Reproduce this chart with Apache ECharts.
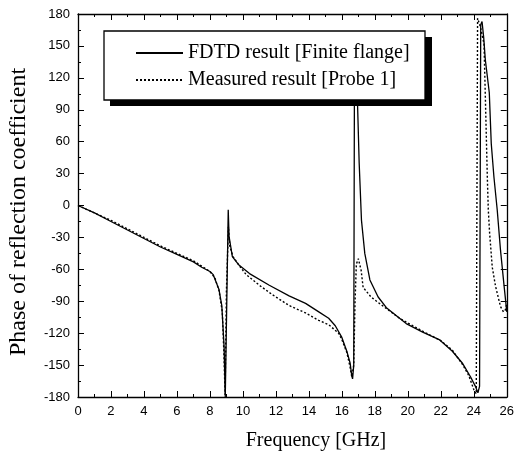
<!DOCTYPE html>
<html>
<head>
<meta charset="utf-8">
<script src="https://cdn.jsdelivr.net/npm/echarts@6/dist/echarts.min.js"></script>
<style>html,body{margin:0;padding:0;background:#fff}#c{width:517px;height:462px}</style>
</head>
<body>
<div id="c"></div>
<script>
var freqFDTD = [0,1,2,3,4,5,6,7,7.5,8,8.2,8.55,8.72,8.86,8.93,8.97,9.11,9.16,9.36,9.76,10.4,11.6,12.8,13.8,14.6,15.2,15.6,16.0,16.3,16.5,16.6,16.65,16.72,16.76,16.85,16.95,17.05,17.19,17.39,17.7,18.2,18.7,19.9,20.9,21.9,22.7,23.3,23.8,24.1,24.25,24.35,24.42,24.5,24.6,24.7,24.94,25.06,25.22,25.42,25.62,25.82,26];
var phaseFDTD = [0,-7,-15,-23,-31,-39,-46,-53,-58,-62,-65,-79,-94,-133,-180,-180,-4,-29,-48,-56,-64,-75,-85,-92,-100,-106,-113,-124,-137,-148,-160,-163,-150,100,140,96,40,-14,-45,-70,-86,-96,-111,-119,-126,-137,-148,-161,-170,-176,-170,170,173,158,137,106,58,27,-4,-42,-73,-100];
var freqMeas = [0,1,2,3,4,5,6,7,7.5,8,8.3,8.55,8.75,8.85,8.92,9.0,9.12,9.2,9.4,9.8,10.2,11.0,11.8,12.8,13.8,14.6,15.2,15.8,16.0,16.3,16.5,16.6,16.72,16.8,16.88,17.0,17.17,17.29,17.77,18.19,18.8,19.5,20.3,21.0,22.0,22.7,23.3,23.7,24.0,24.15,24.2,24.23,24.4,24.62,24.72,24.82,24.88,24.96,25.12,25.32,25.62,25.8,25.92,26];
var phaseMeas = [0,-7,-14,-22,-30,-38,-45,-52,-57,-62,-68,-80,-100,-140,-178,-80,-20,-38,-48,-57,-65,-75,-84,-94,-101,-108,-112,-120,-126,-138,-152,-161,-150,-90,-55,-50,-61,-77,-86,-91,-98,-106,-113,-119,-127,-136,-149,-160,-173,-177,-177,176,168,152,90,27,-4,-26,-58,-76,-95,-100,-98,-92];
var xTicks = {min:0, max:26, step:2};
var yTicks = {min:-180, max:180, step:30};
var seriesNames = ['FDTD result [Finite flange]', 'Measured result [Probe 1]'];
var xTitle = 'Frequency [GHz]';
var yTitle = 'Phase of reflection coefficient';

function pairs(xs, ys){ return xs.map(function(x,i){ return [x, ys[i]]; }); }

var chart = echarts.init(document.getElementById('c'), null, {renderer:'canvas'});
var tickFont = {fontFamily:"'Liberation Sans Narrow','Liberation Sans',Arial,sans-serif", fontSize:13, color:'#000'};
function xAx(pos, show){
  return {type:'value', position:pos, min:xTicks.min, max:xTicks.max, interval:xTicks.step,
    axisLine:{show:true, onZero:false, lineStyle:{color:'#000', width:1.3}},
    axisTick:{show:true, inside:true, length:6, lineStyle:{color:'#000', width:1}},
    minorTick:{show:true, splitNumber:2, length:3, lineStyle:{color:'#000', width:1}},
    splitLine:{show:false},
    axisLabel:Object.assign({show:show, margin:8}, tickFont)};
}
function yAx(pos, show){
  return {type:'value', position:pos, min:yTicks.min, max:yTicks.max, interval:yTicks.step,
    axisLine:{show:true, onZero:false, lineStyle:{color:'#000', width:1.3}},
    axisTick:{show:true, inside:true, length:6, lineStyle:{color:'#000', width:1}},
    minorTick:{show:true, splitNumber:2, length:3, lineStyle:{color:'#000', width:1}},
    splitLine:{show:false},
    axisLabel:Object.assign({show:show, margin:8}, tickFont)};
}
var serif = "'Liberation Serif','Times New Roman',serif";
chart.setOption({
  animation:false,
  backgroundColor:'#fff',
  grid:{left:78, right:7, top:14, bottom:65, containLabel:false},
  xAxis:[xAx('bottom', true), xAx('top', false)],
  yAxis:[yAx('left', true), yAx('right', false)],
  legend:{
    show:true, orient:'vertical', left:130, top:38, z:60,
    itemWidth:47, itemHeight:14, itemGap:7,
    backgroundColor:'transparent',
    itemStyle:{opacity:0},
    textStyle:{fontFamily:serif, fontSize:20, color:'#000'},
    data:seriesNames
  },
  graphic:[
    {type:'rect', z:50, shape:{x:110, y:37, width:322, height:69}, style:{fill:'#000'}},
    {type:'rect', z:51, shape:{x:104, y:31, width:321, height:69}, style:{fill:'#fff', stroke:'#000', lineWidth:1.3}},
    {type:'text', z:52, x:316, y:441, style:{text:xTitle, font:"20px "+serif, fill:'#000', textAlign:'center', textVerticalAlign:'middle'}},
    {type:'text', z:52, x:19, y:212, rotation:Math.PI/2, style:{text:yTitle, font:"24px "+serif, fill:'#000', textAlign:'center', textVerticalAlign:'middle'}}
  ],
  series:[
    {name:seriesNames[0], type:'line', xAxisIndex:0, yAxisIndex:0, data:pairs(freqFDTD, phaseFDTD),
      showSymbol:false, symbol:'none', smooth:false, clip:true,
      lineStyle:{color:'#000', width:1.3, type:'solid'}, itemStyle:{color:'#000'}},
    {name:seriesNames[1], type:'line', xAxisIndex:0, yAxisIndex:0, data:pairs(freqMeas, phaseMeas),
      showSymbol:false, symbol:'none', smooth:false, clip:true,
      lineStyle:{color:'#000', width:1.4, type:[2,2]}, itemStyle:{color:'#000'}}
  ]
});
</script>
</body>
</html>
